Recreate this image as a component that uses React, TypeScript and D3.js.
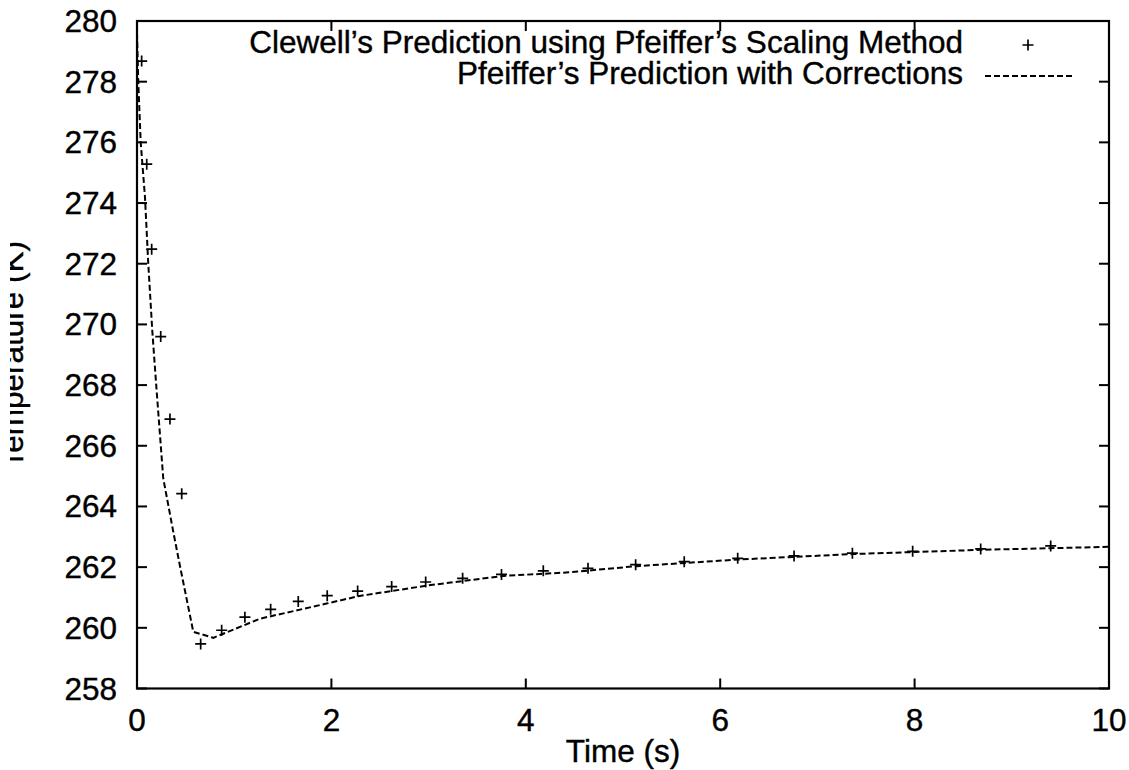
import React from "react";
import * as d3 from "d3";

// Clewell's prediction (plus markers)
const timePts = [0.048, 0.10, 0.151, 0.244, 0.339, 0.46, 0.655, 0.871, 1.11, 1.375, 1.659, 1.957, 2.27, 2.62, 2.97, 3.35, 3.75, 4.18, 4.64, 5.13, 5.63, 6.18, 6.76, 7.36, 7.98, 8.68, 9.40];
const tempPts = [278.68, 275.28, 272.48, 269.6, 266.88, 264.42, 259.47, 259.92, 260.35, 260.61, 260.87, 261.06, 261.21, 261.36, 261.51, 261.63, 261.76, 261.88, 261.96, 262.08, 262.18, 262.29, 262.37, 262.46, 262.52, 262.6, 262.7];

// Pfeiffer's prediction with corrections (dashed line)
const timeLine = [0.0, 0.013, 0.038, 0.082, 0.116, 0.157, 0.2, 0.27, 0.373, 0.44, 0.579, 0.785, 1.265, 1.95, 2.29, 2.98, 3.77, 4.45, 5.13, 6.18, 7.36, 8.68, 10.0];
const tempLine = [279.6, 278.0, 276.0, 274.2, 272.0, 269.8, 267.9, 264.93, 263.17, 262.07, 259.87, 259.67, 260.3, 260.8, 261.05, 261.39, 261.71, 261.83, 262.03, 262.25, 262.43, 262.57, 262.67];

const xTicks = [0, 2, 4, 6, 8, 10];
const yTicks = [258, 260, 262, 264, 266, 268, 270, 272, 274, 276, 278, 280];

const legendLabels = [
  "Clewell\u2019s Prediction using Pfeiffer\u2019s Scaling Method",
  "Pfeiffer\u2019s Prediction with Corrections",
];
const xTitle = "Time (s)";
const yTitle = "Temperature (K)";

const W = 1129;
const H = 770;
const L = 137;
const R = 1109;
const T = 21;
const B = 688.5;
const FONT = "'Liberation Sans', Arial, Helvetica, sans-serif";
const FS = 31.5;

export default function App() {
  const x = d3.scaleLinear().domain([0, 10]).range([L, R]);
  const y = d3.scaleLinear().domain([258, 280]).range([B, T]);
  const lineData = timeLine.map((t, i) => [t, tempLine[i]] as [number, number]);
  const linePath = d3
    .line<[number, number]>()
    .x((d) => x(d[0]))
    .y((d) => y(d[1]))(lineData) as string;
  const tickLen = 10;
  const plus = (cx: number, cy: number, r: number, key: any) => (
    <path key={key} d={`M${cx - r},${cy}H${cx + r}M${cx},${cy - r}V${cy + r}`} stroke="#000" strokeWidth={1.7} fill="none" />
  );
  const txt = { fontSize: FS, fill: "#000", stroke: "#000", strokeWidth: 0.4 };

  return (
    <svg
      width={W}
      height={H}
      style={{ position: "absolute", left: 0, top: 0, background: "#fff" }}
      fontFamily={FONT}
    >
      <defs>
        <clipPath id="ylabclip">
          <rect x={10} y={0} width={60} height={H} />
        </clipPath>
      </defs>
      <rect x={0} y={0} width={W} height={H} fill="#fff" />

      {/* ticks (mirrored on all sides, inward) */}
      {xTicks.map((t) => (
        <g key={"xt" + t}>
          <line x1={x(t)} x2={x(t)} y1={B} y2={B - tickLen} stroke="#000" strokeWidth={2} />
          <line x1={x(t)} x2={x(t)} y1={T} y2={T + tickLen} stroke="#000" strokeWidth={2} />
          <text x={x(t)} y={731} textAnchor="middle" {...txt}>
            {t}
          </text>
        </g>
      ))}
      {yTicks.map((v) => (
        <g key={"yt" + v}>
          <line x1={L} x2={L + tickLen} y1={y(v)} y2={y(v)} stroke="#000" strokeWidth={2} />
          <line x1={R} x2={R - tickLen} y1={y(v)} y2={y(v)} stroke="#000" strokeWidth={2} />
          <text x={117} y={y(v) + 11} textAnchor="end" {...txt}>
            {v}
          </text>
        </g>
      ))}

      {/* frame */}
      <rect x={L} y={T} width={R - L} height={B - T} fill="none" stroke="#000" strokeWidth={2.2} />

      {/* dashed line */}
      <path d={linePath} fill="none" stroke="#000" strokeWidth={2} strokeDasharray="6,3" />

      {/* plus markers */}
      {timePts.map((t, i) => plus(x(t), y(tempPts[i]), 5.5, "p" + i))}

      {/* legend */}
      <text x={963} y={53} textAnchor="end" {...txt}>
        {legendLabels[0]}
      </text>
      {plus(1028, 45, 5.5, "lp")}
      <text x={963} y={83.5} textAnchor="end" {...txt}>
        {legendLabels[1]}
      </text>
      <line x1={985} x2={1072} y1={76} y2={76} stroke="#000" strokeWidth={2} strokeDasharray="6,3" />

      {/* axis titles */}
      <text x={623} y={762} textAnchor="middle" {...txt}>
        {xTitle}
      </text>
      <g clipPath="url(#ylabclip)">
        <text
          transform={`translate(23,${(T + B) / 2}) rotate(-90)`}
          textAnchor="middle"
          {...txt}
        >
          {yTitle}
        </text>
      </g>
    </svg>
  );
}
